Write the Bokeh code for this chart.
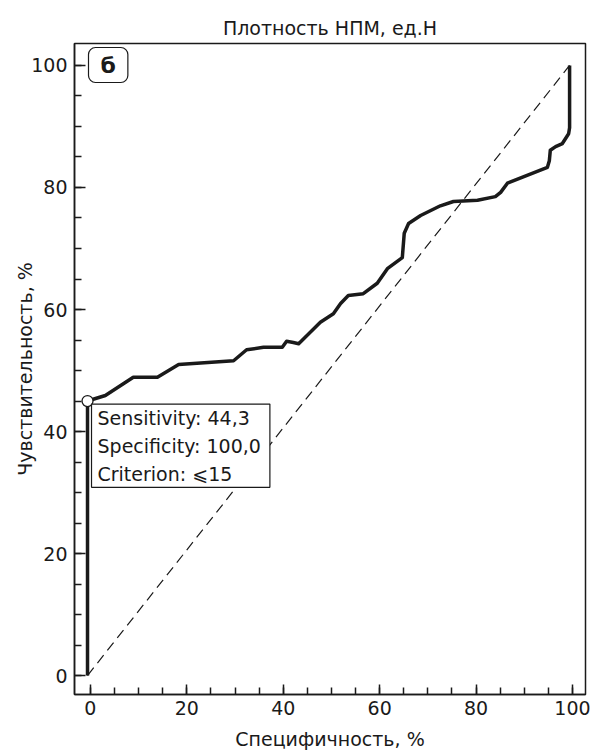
from bokeh.plotting import figure
from bokeh.models import Label, SingleIntervalTicker, Range1d
from bokeh.embed import file_html
from bokeh.resources import INLINE

# ROC curve data
specificity = [-0.6, -0.6, 3.1, 8.9, 13.9, 18.3, 29.7, 32.4, 35.9, 39.8, 40.7, 42.1, 43.2,
               47.7, 50.4, 51.9, 53.5, 56.6, 59.5, 61.6, 64.7, 65.1, 66.0, 68.5, 72.6,
               75.3, 80.3, 84.0, 85.1, 86.5, 94.8, 95.2, 95.4, 96.5, 97.9, 99.2, 99.4, 99.4]
sensitivity = [0, 45.0, 45.9, 48.9, 48.9, 51.0, 51.6, 53.4, 53.8, 53.8, 54.8, 54.6, 54.4,
               57.9, 59.3, 61.0, 62.3, 62.6, 64.3, 66.7, 68.5, 72.5, 74.1, 75.4, 77.0,
               77.7, 77.9, 78.5, 79.2, 80.7, 83.3, 84.4, 86.1, 86.7, 87.2, 88.8, 89.8, 100.0]
diag_x = [-0.6, 99.4]
diag_y = [0, 100]
cut_x = [-0.6]
cut_y = [45.0]
tick_step = 20
minor_per_major = 4
info_lines = ["Sensitivity: 44,3", "Specificity: 100,0", "Criterion: \u2a7d15"]
title_text = "Плотность НПМ, ед.Н"
x_label = "Специфичность, %"
y_label = "Чувствительность, %"
panel_letter = "б"

FONT = "DejaVu Sans"
INK = "#1a1a1a"
X0, X1, Y0, Y1 = -3.3, 102.7, -3.1, 103.6

p = figure(width=596, height=752, output_backend="svg", toolbar_location=None,
           x_range=Range1d(X0, X1), y_range=Range1d(Y0, Y1),
           min_border_left=74, min_border_right=11, min_border_top=43, min_border_bottom=58)
p.background_fill_color = "white"
p.border_fill_color = "white"
p.grid.visible = False
p.outline_line_color = INK
p.outline_line_width = 1.5

p.title.text = title_text
p.title.align = "center"
p.title.text_font = FONT
p.title.text_font_size = "19px"
p.title.text_font_style = "normal"
p.title.text_color = INK
p.title.standoff = 9

for ax in (p.xaxis[0], p.yaxis[0]):
    ax.ticker = SingleIntervalTicker(interval=tick_step, num_minor_ticks=minor_per_major)
    ax.axis_line_color = INK
    ax.axis_line_width = 1.5
    ax.major_tick_line_color = INK
    ax.minor_tick_line_color = INK
    ax.major_tick_line_width = 1.5
    ax.minor_tick_line_width = 1.5
    ax.major_tick_out = 0
    ax.minor_tick_out = 0
    ax.major_label_text_font = FONT
    ax.major_label_text_font_size = "19px"
    ax.major_label_text_color = INK
    ax.axis_label_text_font = FONT
    ax.axis_label_text_font_size = "19px"
    ax.axis_label_text_font_style = "normal"
    ax.axis_label_text_color = INK

p.xaxis.major_tick_in = 10
p.xaxis.minor_tick_in = 7
p.yaxis.major_tick_in = 11
p.yaxis.minor_tick_in = 7
p.xaxis.major_label_standoff = 6
p.yaxis.major_label_standoff = 7
p.xaxis.axis_label = x_label
p.yaxis.axis_label = y_label
p.xaxis.axis_label_standoff = 10
p.yaxis.axis_label_standoff = -8

p.line(diag_x, diag_y, line_color=INK, line_width=1.2, line_dash="10 6")
p.line(specificity, sensitivity, line_color=INK, line_width=3.5, line_join="round")
p.scatter(cut_x, cut_y, size=11, marker="circle", fill_color="white",
          line_color=INK, line_width=1.3)

info = Label(x=cut_x[0], y=cut_y[0], x_offset=4, y_offset=-3,
             text="\n".join(info_lines), anchor="top_left",
             text_font=FONT, text_font_size="19px", text_color=INK,
             text_line_height=1.28,
             border_line_color=INK, border_line_width=1.2,
             background_fill_color="white",
             padding=dict(left=6, right=9, top=3, bottom=2))
p.add_layout(info)

# panel letter (annotations are clipped to the frame, so it sits in the frame's top-left corner)
letter = Label(x=88, y=47, x_units="canvas", y_units="canvas",
               text=panel_letter, anchor="top_left",
               text_font=FONT, text_font_size="22px", text_font_style="bold",
               text_color=INK, border_line_color=INK, border_line_width=1.2,
               border_radius=7, background_fill_color="white",
               padding=dict(left=12, right=12, top=5, bottom=5))
p.add_layout(letter)

open("out.html", "w").write(file_html(p, INLINE))
